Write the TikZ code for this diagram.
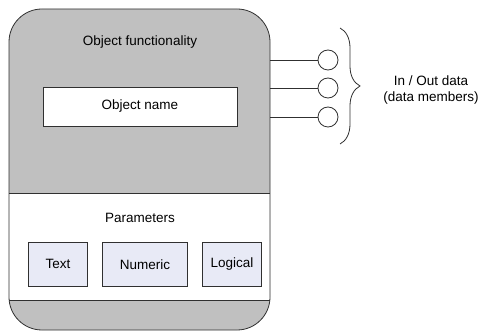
\documentclass[tikz,border=0pt]{standalone}
\usepackage{fontspec}
\setmainfont{Liberation Sans}
\usetikzlibrary{decorations.pathreplacing}
\definecolor{objgray}{HTML}{C0C0C0}
\definecolor{parfill}{HTML}{E8EAF6}
\definecolor{edge}{HTML}{303030}
\begin{document}
\begin{tikzpicture}[x=1pt,y=-1pt,
  every node/.style={font=\fontsize{13.5}{16}\selectfont},
  outline/.style={draw=edge,line width=0.8pt},
  parbox/.style={outline,fill=parfill,inner sep=0pt,anchor=north west},
  port/.style={circle,draw=edge,line width=0.8pt,fill=white,minimum size=20pt,inner sep=0pt}]
\useasboundingbox (0,0) rectangle (482,331);
% outer object
\path[fill=objgray] (9,9) [rounded corners=33pt] -- (270,9) -- (270,330) -- (9,330) -- cycle;
\fill[white] (9,193) rectangle (270,300);
\draw[outline] (9,193) -- (270,193) (9,300) -- (270,300);
\draw[outline,rounded corners=33pt] (9,9) rectangle (270,330);
\node (func) at (140,42) {Object functionality};
\node[outline,fill=white,minimum width=194pt,minimum height=39pt,inner sep=0pt] (name) at (140,106.5) {Object name};
\node (params) at (140,218) {Parameters};
\node[parbox,minimum width=59pt,minimum height=44pt] (text) at (28,242) {};
\node at (text.center) {Text};
\node[parbox,minimum width=85pt,minimum height=44pt] (num) at (102,242) {};
\node at (num.center) {Numeric};
\node[parbox,minimum width=59pt,minimum height=44pt] (logic) at (202,242) {};
\node at (logic.center) {Logical};
% ports
\coordinate (e1) at (270,60);
\coordinate (e2) at (270,88);
\coordinate (e3) at (270,117);
\node[port] (p1) at (328,60) {};
\node[port] (p2) at (328,88) {};
\node[port] (p3) at (328,117) {};
\draw[outline] (e1) -- (p1.west) (e2) -- (p2.west) (e3) -- (p3.west);
% brace
\coordinate (b1) at (340,28);
\coordinate (b2) at (340,144);
\draw[outline,decorate,decoration={brace,amplitude=20pt,raise=0pt}] (b1) -- (b2);
\node[align=center,font=\fontsize{13.5}{15.5}\selectfont] (io) at (431,90) {In / Out data\\(data members)};
\end{tikzpicture}
\end{document}
